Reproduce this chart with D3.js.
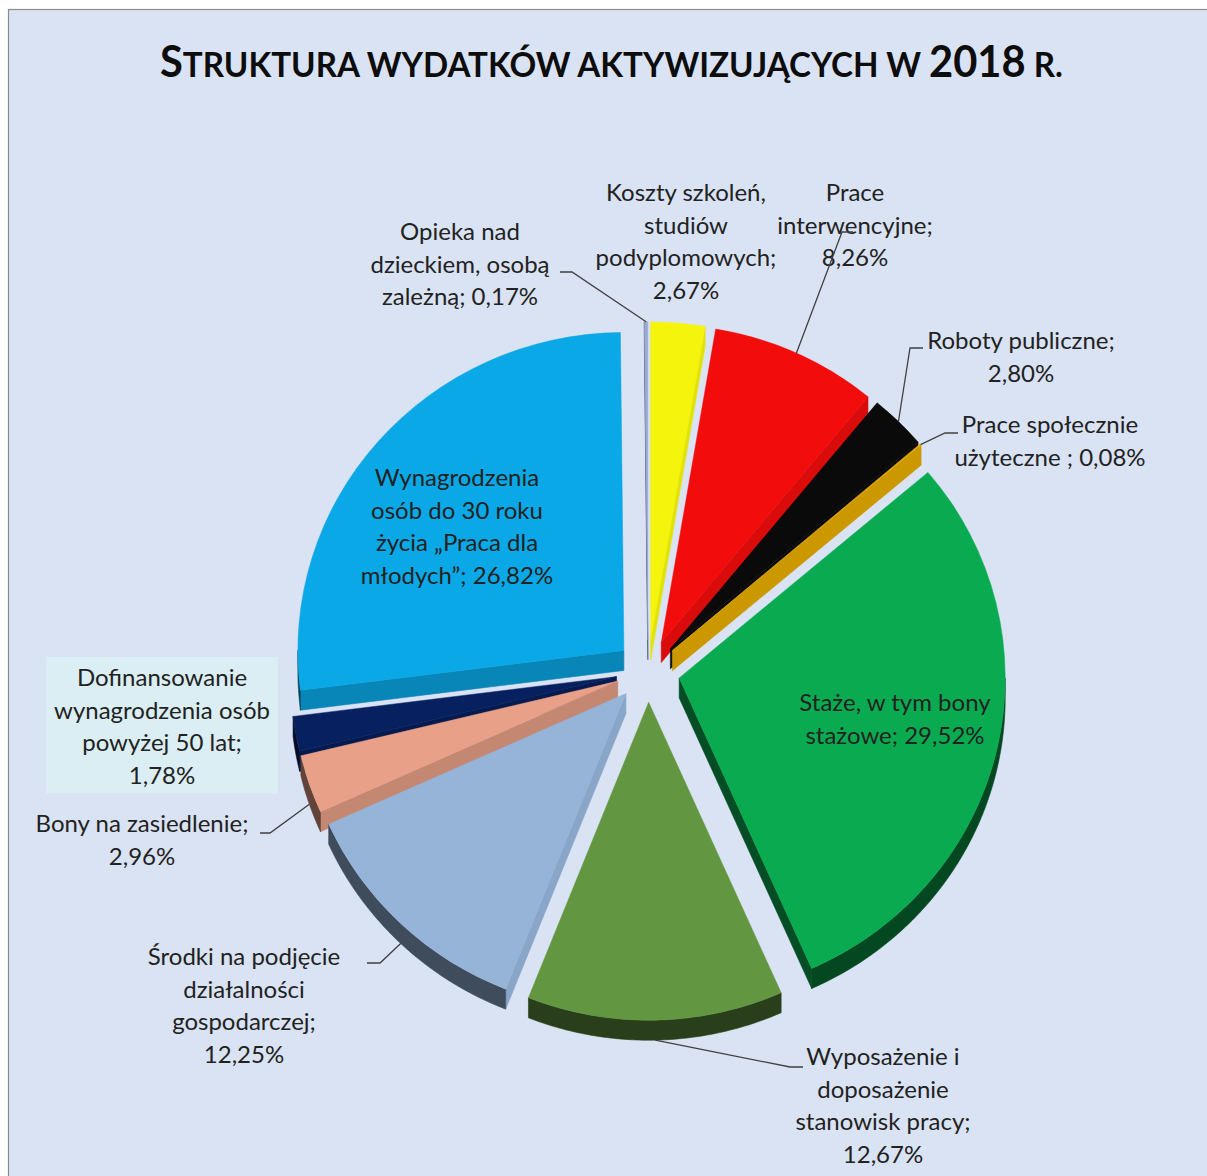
<!DOCTYPE html>
<html><head><meta charset="utf-8">
<script src="https://cdn.jsdelivr.net/npm/d3@7"></script>
<style>body{margin:0;background:#fff} svg{display:block}</style>
</head><body>
<svg id="chart" width="1207" height="1176"></svg>
<script>
// ---------- DATA ----------
const categories = [
  "Koszty szkoleń, studiów podyplomowych",
  "Prace interwencyjne",
  "Roboty publiczne",
  "Prace społecznie użyteczne",
  "Staże, w tym bony stażowe",
  "Wyposażenie i doposażenie stanowisk pracy",
  "Środki na podjęcie działalności gospodarczej",
  "Bony na zasiedlenie",
  "Dofinansowanie wynagrodzenia osób powyżej 50 lat",
  "Wynagrodzenia osób do 30 roku życia „Praca dla młodych”",
  "Opieka nad dzieckiem, osobą zależną"
];
const values = [2.67, 8.26, 2.80, 0.08, 29.52, 12.67, 12.25, 2.96, 1.78, 26.82, 0.17];
const labelLines = [
  ["Koszty szkoleń,", "studiów", "podyplomowych;", "{v}"],
  ["Prace", "interwencyjne;", "{v}"],
  ["Roboty publiczne;", "{v}"],
  ["Prace społecznie", "użyteczne ; {v}"],
  ["Staże, w tym bony", "stażowe; {v}"],
  ["Wyposażenie i", "doposażenie", "stanowisk pracy;", "{v}"],
  ["Środki na podjęcie", "działalności", "gospodarczej;", "{v}"],
  ["Bony na zasiedlenie;", "{v}"],
  ["Dofinansowanie", "wynagrodzenia osób", "powyżej 50 lat;", "{v}"],
  ["Wynagrodzenia", "osób do 30 roku", "życia „Praca dla", "młodych”; {v}"],
  ["Opieka nad", "dzieckiem, osobą", "zależną; {v}"]
];
const titleParts = [["S", "big"], ["TRUKTURA WYDATKÓW AKTYWIZUJĄCYCH W ", "small"], ["2018", "big"], [" R.", "small"]];

// ---------- STYLE / LAYOUT ----------
const colors = ["#f4f40c", "#f20c0c", "#0a0a0a", "#e8ad00", "#0aab50", "#629640", "#95b4d8", "#e8a088", "#062060", "#0aa8e6", "#9aaad2"];
const labelPos = [[686,193],[855,193],[1021,341],[1050,425],[895,703],[883,1057],[244,957],[142,824],[162,678],[457,478],[460,232]];
const leaderElbow = [null,[842,232,853],[910,348,923],[945,433,958],null,[790,1067,803],[380,963,367],[270,833,260],null,null,[572,272,560]];
const boxed = [false,false,false,false,false,false,false,false,true,false,false];
const CX = 648, CY = 671, RX = 326, RY = 318, DEPTH = 20, EXPLODE = 32;
const LINE_H = 32.5, FONT = "Lato, 'Open Sans', sans-serif";

const svg = d3.select("#chart");
svg.append("rect").attr("x", 8.5).attr("y", 9.5).attr("width", 1220).attr("height", 1200)
  .attr("fill", "#dae3f3").attr("stroke", "#8c8c8c").attr("stroke-width", 1.2);

// title
const title = svg.append("text").attr("font-family", FONT).attr("font-weight", "bold").attr("fill", "#0d0d0d");
titleParts.forEach(([t, s]) => title.append("tspan").attr("font-size", s === "big" ? 44 : 35).text(t));
const tw = title.node().getComputedTextLength();
title.attr("transform", `translate(160,77) scale(${903 / tw},1)`);

// pie geometry
const arcs = d3.pie().sort(null).value(d => d)(values);
const k = RY / RX;
const mid = a => (a.startAngle + a.endAngle) / 2;
const apex = a => [CX + EXPLODE * Math.sin(mid(a)), CY - EXPLODE * k * Math.cos(mid(a))];
const pt = (o, ang, dz = 0) => [o[0] + RX * Math.sin(ang), o[1] - RY * Math.cos(ang) + dz];
const shade = (c, f) => { const r = d3.rgb(c); return d3.rgb(r.r * f, r.g * f, r.b * f).formatHex(); };
const poly = d3.line();
const arcGen = d3.arc().innerRadius(0).outerRadius(RX);

const order = arcs.map((a, i) => i).sort((i, j) => (-Math.cos(mid(arcs[i]))) - (-Math.cos(mid(arcs[j]))));
const pieG = svg.append("g");
order.forEach(i => {
  const a = arcs[i], o = apex(a), g = pieG.append("g");
  // radial walls
  [[a.startAngle, a.startAngle - Math.PI / 2], [a.endAngle, a.endAngle + Math.PI / 2]].forEach(([ang, n]) => {
    if (Math.cos(n) < -0.001) {
      const nx = Math.sin(n);
      const f = nx >= 0 ? 0.78 + 0.15 * nx : 0.78 + 0.36 * nx;
      const c = shade(colors[i], f);
      g.append("path").attr("d", poly([o, pt(o, ang), pt(o, ang, DEPTH), [o[0], o[1] + DEPTH]]) + "Z")
        .attr("fill", c).attr("stroke", c).attr("stroke-width", 0.6);
    }
  });
  // outer (curved) wall, front-facing part only
  const lo = Math.max(a.startAngle, Math.PI / 2), hi = Math.min(a.endAngle, 3 * Math.PI / 2);
  if (hi > lo) {
    const n = Math.max(2, Math.ceil((hi - lo) / 0.01));
    const top = d3.range(n + 1).map(s => pt(o, lo + (hi - lo) * s / n));
    const bot = d3.range(n + 1).map(s => pt(o, hi - (hi - lo) * s / n, DEPTH));
    const c = shade(colors[i], 0.42);
    g.append("path").attr("d", poly(top.concat(bot)) + "Z").attr("fill", c).attr("stroke", c).attr("stroke-width", 0.6);
  }
  // top face
  g.append("path").attr("d", arcGen(a)).attr("transform", `translate(${o[0]},${o[1]}) scale(1,${k})`)
    .attr("fill", colors[i]).attr("stroke", colors[i]).attr("stroke-width", 0.5);
});

// labels
const fmt = v => d3.format(".2f")(v).replace(".", ",") + "%";
const labG = svg.append("g").attr("font-family", FONT).attr("font-size", 24).attr("fill", "#222").attr("text-anchor", "middle");
arcs.forEach((a, i) => {
  const [lx, ly] = labelPos[i];
  const t = labG.append("text");
  labelLines[i].forEach((s, j) => {
    t.append("tspan").attr("x", lx).attr("y", ly + j * LINE_H + 8).text(s.replace("{v}", fmt(values[i])));
  });
  if (boxed[i]) {
    const b = t.node().getBBox();
    labG.insert("rect", () => t.node()).attr("x", b.x - 8).attr("y", b.y - 5)
      .attr("width", b.width + 16).attr("height", b.height + 10).attr("fill", "#daeef3");
  }
  const el = leaderElbow[i];
  if (el) {
    const o = apex(a), m = mid(a);
    const front = Math.cos(m) < 0;
    const end = pt(o, m, front ? DEPTH : 0);
    svg.append("path").attr("d", poly([[el[2], el[1]], [el[0], el[1]], end]))
      .attr("fill", "none").attr("stroke", "#404040").attr("stroke-width", 1.3);
  }
});
</script>
</body></html>
